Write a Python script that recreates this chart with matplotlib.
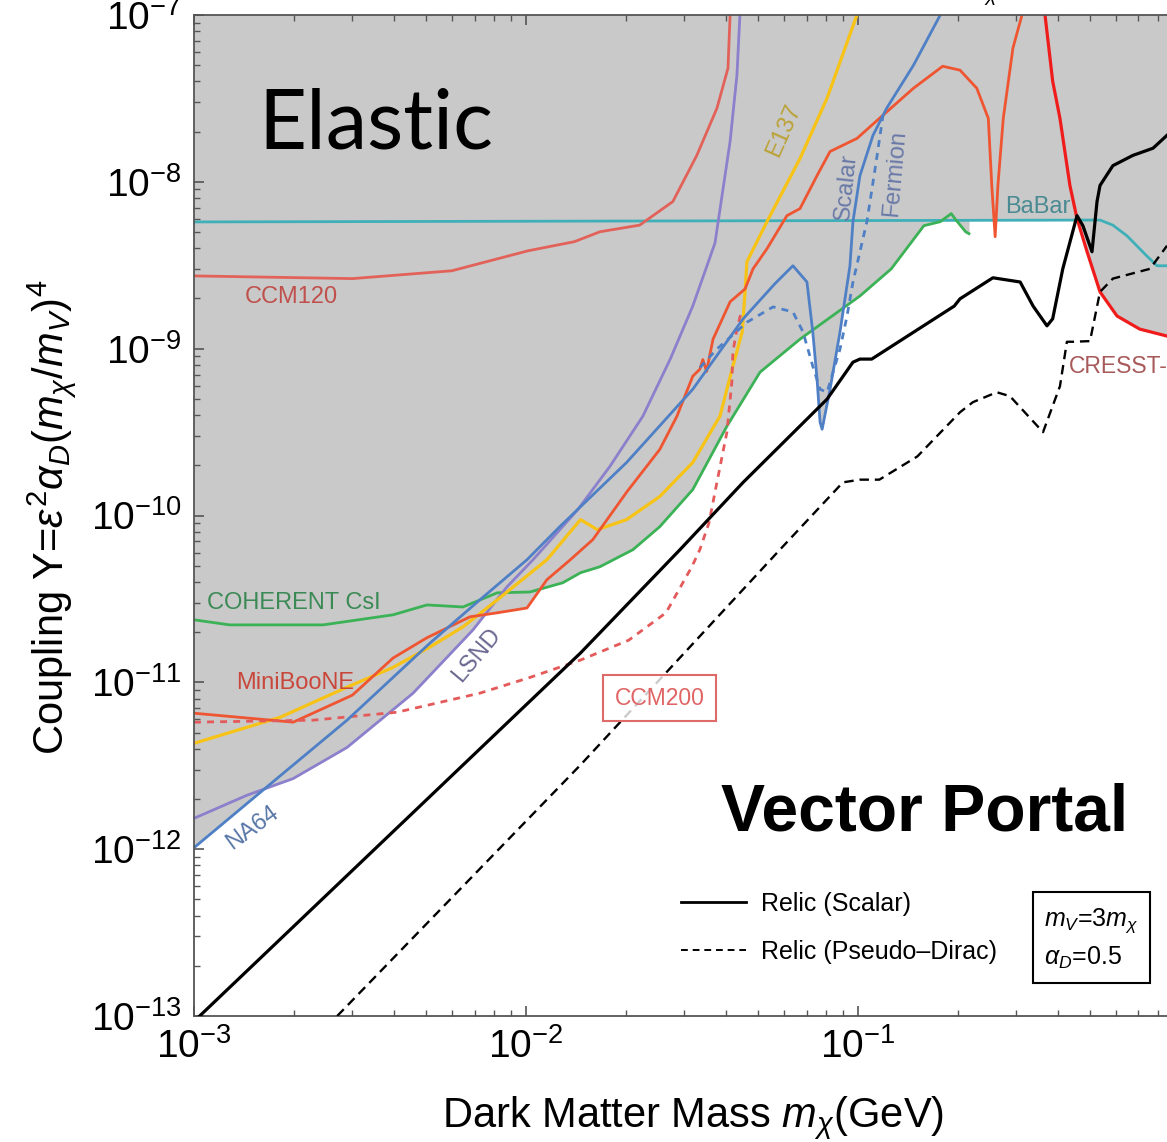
import numpy as np
import matplotlib.pyplot as plt
from matplotlib.lines import Line2D

plt.rcParams['font.family'] = ['Liberation Sans', 'DejaVu Sans']
plt.rcParams['mathtext.fontset'] = 'custom'
plt.rcParams['mathtext.rm'] = 'Liberation Sans'
plt.rcParams['mathtext.it'] = 'Liberation Sans:italic'
plt.rcParams['mathtext.bf'] = 'Liberation Sans:bold'

# ---- limits (mass in GeV, coupling Y) ----
na64_x = [1.0e-3, 1.61e-3, 2.89e-3, 5.14e-3, 7.26e-3, 1.007e-2, 1.264e-2, 2.01e-2, 3.18e-2,
          4.51e-2, 5.62e-2, 6.37e-2, 7.02e-2, 7.31e-2, 7.53e-2, 7.69e-2, 7.80e-2, 8.24e-2,
          8.83e-2, 9.46e-2, 9.66e-2, 1.014e-1, 1.11e-1, 1.22e-1, 1.47e-1, 1.77e-1]
na64_y = [1.02e-12, 2.25e-12, 5.93e-12, 1.72e-11, 3.12e-11, 5.43e-11, 8.57e-11, 2.08e-10, 5.71e-10,
          1.51e-9, 2.45e-9, 3.14e-9, 2.51e-9, 1.26e-9, 6.56e-10, 3.62e-10, 3.29e-10, 5.71e-10,
          1.26e-9, 3.14e-9, 5.77e-9, 1.09e-8, 1.90e-8, 2.76e-8, 5.00e-8, 1.0e-7]

fermion_x = [3.34e-2, 3.76e-2, 4.63e-2, 5.55e-2, 6.37e-2, 6.83e-2, 7.31e-2, 7.69e-2, 8.07e-2,
             8.83e-2, 9.27e-2, 9.66e-2, 1.064e-1, 1.13e-1, 1.19e-1]
fermion_y = [7.7e-10, 9.95e-10, 1.44e-9, 1.78e-9, 1.66e-9, 1.26e-9, 7.85e-10, 5.71e-10, 5.48e-10,
             9.95e-10, 1.57e-9, 2.51e-9, 5.77e-9, 1.25e-8, 2.51e-8]

lsnd_x = [1.0e-3, 1.44e-3, 1.99e-3, 2.89e-3, 4.57e-3, 6.92e-3, 8.77e-3, 1.05e-2, 1.43e-2,
          1.79e-2, 2.25e-2, 2.72e-2, 3.18e-2, 3.71e-2, 4.12e-2, 4.32e-2, 4.41e-2]
lsnd_y = [1.53e-12, 2.10e-12, 2.65e-12, 4.07e-12, 8.61e-12, 2.06e-11, 3.74e-11, 5.43e-11, 1.08e-10,
          1.97e-10, 3.94e-10, 8.66e-10, 1.8e-9, 4.3e-9, 1.75e-8, 4.36e-8, 1.0e-7]

miniboone_x = [1.0e-3, 1.99e-3, 3.0e-3, 3.98e-3, 5.03e-3, 6.78e-3, 8.19e-3, 1.007e-2, 1.156e-2,
               1.36e-2, 1.59e-2, 2.01e-2, 2.53e-2, 2.85e-2, 3.18e-2, 3.34e-2, 3.41e-2, 3.50e-2,
               3.58e-2, 3.66e-2, 4.12e-2, 4.57e-2, 4.83e-2, 5.32e-2, 6.11e-2, 6.69e-2, 7.53e-2,
               8.24e-2, 9.93e-2, 1.19e-1, 1.47e-1, 1.80e-1, 2.03e-1, 2.28e-1, 2.47e-1, 2.53e-1,
               2.59e-1, 2.64e-1, 2.74e-1, 2.93e-1, 3.12e-1]
miniboone_y = [6.53e-12, 5.77e-12, 8.38e-12, 1.40e-11, 1.85e-11, 2.47e-11, 2.61e-11, 2.79e-11, 4.12e-11,
               5.43e-11, 7.17e-11, 1.38e-10, 2.49e-10, 3.94e-10, 6.84e-10, 7.53e-10, 8.6e-10, 7.3e-10,
               9.2e-10, 1.14e-9, 1.91e-9, 2.28e-9, 3.01e-9, 3.97e-9, 6.27e-9, 6.91e-9, 1.09e-8,
               1.52e-8, 1.82e-8, 2.51e-8, 3.64e-8, 4.93e-8, 4.67e-8, 3.64e-8, 2.40e-8, 9.51e-9,
               4.69e-9, 9.51e-9, 2.40e-8, 6.34e-8, 1.0e-7]

ccm120_x = [1.0e-3, 3.0e-3, 5.98e-3, 1.014e-2, 1.40e-2, 1.67e-2, 2.20e-2, 2.77e-2, 3.27e-2,
            3.76e-2, 4.06e-2, 4.12e-2]
ccm120_y = [2.73e-9, 2.63e-9, 2.93e-9, 3.86e-9, 4.38e-9, 5.02e-9, 5.5e-9, 7.62e-9, 1.44e-8,
            2.76e-8, 4.80e-8, 1.0e-7]

ccm200_x = [1.0e-3, 2.28e-3, 4.09e-3, 7.26e-3, 1.028e-2, 1.46e-2, 2.04e-2, 2.64e-2, 3.16e-2,
            3.34e-2, 3.56e-2, 3.76e-2, 4.03e-2, 4.17e-2, 4.20e-2, 4.32e-2, 4.45e-2]
ccm200_y = [5.77e-12, 5.93e-12, 6.62e-12, 8.61e-12, 1.07e-11, 1.36e-11, 1.79e-11, 2.61e-11, 4.93e-11,
            6.24e-11, 9.06e-11, 1.58e-10, 3.16e-10, 6.30e-10, 9.55e-10, 1.31e-9, 1.66e-9]

e137_x = [1.0e-3, 1.82e-3, 2.89e-3, 3.98e-3, 5.14e-3, 6.46e-3, 8.19e-3, 1.156e-2, 1.46e-2,
          1.64e-2, 2.01e-2, 2.53e-2, 3.18e-2, 3.84e-2, 4.20e-2, 4.48e-2, 4.57e-2, 4.63e-2,
          5.32e-2, 6.69e-2, 8.07e-2, 9.93e-2]
e137_y = [4.31e-12, 6.18e-12, 9.35e-12, 1.23e-11, 1.63e-11, 2.15e-11, 3.12e-11, 5.43e-11, 9.45e-11,
          8.22e-11, 9.45e-11, 1.30e-10, 2.08e-10, 3.94e-10, 7.85e-10, 1.26e-9, 2.19e-9, 3.32e-9,
          5.77e-9, 1.38e-8, 3.17e-8, 1.0e-7]

coherent_x = [1.0e-3, 1.28e-3, 2.45e-3, 3.98e-3, 5.03e-3, 6.46e-3, 8.19e-3, 1.028e-2, 1.29e-2,
              1.46e-2, 1.67e-2, 2.10e-2, 2.53e-2, 3.18e-2, 4.03e-2, 5.07e-2, 6.69e-2, 1.014e-1,
              1.26e-1, 1.58e-1, 1.77e-1, 1.91e-1, 1.96e-1, 2.11e-1, 2.16e-1]
coherent_y = [2.37e-11, 2.21e-11, 2.21e-11, 2.54e-11, 2.91e-11, 2.83e-11, 3.44e-11, 3.48e-11, 3.95e-11,
              4.54e-11, 4.93e-11, 6.24e-11, 8.57e-11, 1.43e-10, 3.43e-10, 7.23e-10, 1.14e-9, 2.07e-9,
              3.01e-9, 5.46e-9, 5.77e-9, 6.45e-9, 6.01e-9, 5.02e-9, 4.89e-9]

babar_x = [1.0e-3, 5.36e-1, 5.86e-1, 6.46e-1, 7.41e-1, 7.96e-1, 8.53e-1]
babar_y = [5.75e-9, 5.9e-9, 5.5e-9, 4.75e-9, 3.60e-9, 3.14e-9, 3.14e-9]

cresst_x = [3.66e-1, 3.86e-1, 4.06e-1, 4.35e-1, 4.57e-1, 4.90e-1, 5.36e-1, 6.03e-1, 7.06e-1, 8.53e-1]
cresst_y = [1.0e-7, 4.01e-8, 2.40e-8, 9.51e-9, 6.01e-9, 3.81e-9, 2.19e-9, 1.57e-9, 1.31e-9, 1.19e-9]

# relic targets
relic_s_x = [1.04e-3, 1.46e-2, 2.91e-2, 4.51e-2, 8.07e-2, 9.66e-2, 1.014e-1, 1.10e-1, 1.95e-1,
             2.03e-1, 2.55e-1, 3.08e-1, 3.37e-1, 3.71e-1, 3.86e-1, 4.14e-1, 4.57e-1, 4.76e-1,
             5.07e-1, 5.25e-1, 5.36e-1, 5.86e-1, 6.73e-1, 7.74e-1, 8.53e-1]
relic_s_y = [1.0e-13, 1.50e-11, 6.24e-11, 1.58e-10, 4.98e-10, 8.30e-10, 8.66e-10, 8.66e-10, 1.80e-9,
             1.99e-9, 2.66e-9, 2.51e-9, 1.80e-9, 1.37e-9, 1.51e-9, 3.01e-9, 6.27e-9, 5.46e-9,
             3.81e-9, 7.62e-9, 9.51e-9, 1.25e-8, 1.44e-8, 1.59e-8, 1.90e-8]

relic_pd_x = [2.70e-3, 1.46e-2, 2.64e-2, 5.82e-2, 9.01e-2, 1.014e-1, 1.16e-1, 1.51e-1, 2.03e-1,
              2.22e-1, 2.62e-1, 2.87e-1, 3.61e-1, 4.06e-1, 4.26e-1, 4.45e-1, 5.00e-1, 5.36e-1,
              5.86e-1, 7.58e-1, 8.53e-1]
relic_pd_y = [1.0e-13, 3.2e-12, 1.14e-11, 6.24e-11, 1.58e-10, 1.64e-10, 1.64e-10, 2.26e-10, 4.16e-10,
              4.78e-10, 5.48e-10, 5.19e-10, 3.16e-10, 5.96e-10, 1.10e-9, 1.10e-9, 1.11e-9, 2.19e-9,
              2.63e-9, 3.01e-9, 4.14e-9]

xmin, xmax = 1e-3, 0.853
ymin, ymax = 1e-13, 1e-7

fig = plt.figure(figsize=(11.67, 11.42), dpi=100)
ax = fig.add_axes([194/1167, 1 - 1016/1142, 973/1167, 1001/1142])
ax.set_xscale('log')
ax.set_yscale('log')
ax.set_xlim(xmin, xmax)
ax.set_ylim(ymin, ymax)

# excluded region = everything above the lowest bound
grid = np.logspace(np.log10(xmin), np.log10(xmax), 8000)
lg = np.log10(grid)
env = np.full(grid.shape, np.inf)
for xs, ys in [(na64_x, na64_y), (lsnd_x, lsnd_y), (miniboone_x, miniboone_y),
               (ccm120_x, ccm120_y), (e137_x, e137_y), (coherent_x, coherent_y),
               (babar_x, babar_y), (cresst_x, cresst_y)]:
    ly = np.interp(lg, np.log10(xs), np.log10(ys), left=np.inf, right=np.inf)
    env = np.minimum(env, ly)
ax.fill_between(grid, 10**env, 1e-6, color='#c9c9c9', lw=0, zorder=0)

lw = 2.0
ax.plot(babar_x, babar_y, color='#3fb0b8', lw=lw, zorder=2)
ax.plot(ccm120_x, ccm120_y, color='#e2625a', lw=lw, zorder=2)
ax.plot(coherent_x, coherent_y, color='#3cb257', lw=lw, zorder=2)
ax.plot(lsnd_x, lsnd_y, color='#8b80cc', lw=lw, zorder=2)
ax.plot(e137_x, e137_y, color='#f7c316', lw=lw + 0.3, zorder=2)
ax.plot(miniboone_x, miniboone_y, color='#ef5531', lw=lw, zorder=2)
ax.plot(ccm200_x, ccm200_y, color='#e45a5a', lw=lw, ls=(0, (2.5, 2.2)), zorder=2)
ax.plot(na64_x, na64_y, color='#4f80c6', lw=lw, zorder=2)
ax.plot(fermion_x, fermion_y, color='#4f80c6', lw=lw, ls=(0, (2.5, 2.2)), zorder=2)
ax.plot(cresst_x, cresst_y, color='#f01c1c', lw=lw + 0.3, zorder=2)

ax.plot(relic_s_x, relic_s_y, color='black', lw=2.3, zorder=3)
ax.plot(relic_pd_x, relic_pd_y, color='black', lw=1.7, ls=(0, (4, 2.5)), zorder=3)

# curve labels
lab = dict(fontsize=17, zorder=4)
ax.text(1.42e-3, 2.04e-9, 'CCM120', color='#c0504c', ha='left', va='center', **lab)
ax.text(1.094e-3, 2.99e-11, 'COHERENT CsI', color='#3b8a55', ha='left', va='center', **lab)
ax.text(1.338e-3, 9.89e-12, 'MiniBooNE', color='#c9473a', ha='left', va='center', **lab)
ax.text(7.11e-3, 1.46e-11, 'LSND', color='#6a6890', ha='center', va='center', rotation=50, **lab)
ax.text(1.496e-3, 1.35e-12, 'NA64', color='#5a78a8', ha='center', va='center', rotation=36, **lab)
ax.text(6.0e-2, 2.03e-8, 'E137', color='#bba236', ha='center', va='center', rotation=66, **lab)
ax.text(9.21e-2, 9.37e-9, 'Scalar', color='#6a7aa8', ha='center', va='center', rotation=84, **lab)
ax.text(1.29e-1, 1.12e-8, 'Fermion', color='#6a7aa8', ha='center', va='center', rotation=85, **lab)
ax.text(2.77e-1, 7.10e-9, 'BaBar', color='#4a8a92', ha='left', va='center', **lab)
ax.text(4.33e-1, 7.85e-10, 'CRESST-III', color='#a85a5a', ha='left', va='center',
        fontsize=16.5, zorder=4)
ax.text(2.53e-2, 8.03e-12, 'CCM200', color='#e06464', ha='center', va='center',
        bbox=dict(boxstyle='square,pad=0.5', fc=(1, 1, 1, 0.8), ec='#e06a6a', lw=1.5),
        fontsize=16.5, zorder=4)

ax.text(1.56e-3, 1.58e-8, 'Elastic', fontsize=60, family='Lato', color='black',
        ha='left', va='baseline', zorder=4)
ax.text(3.88e-2, 1.29e-12, 'Vector Portal', fontsize=47.5, fontweight='bold', color='black',
        ha='left', va='baseline', zorder=4)

# legend for relic lines
handles = [Line2D([], [], color='black', lw=2.0),
           Line2D([], [], color='black', lw=1.4, ls=(0, (3.5, 2.5)))]
ax.legend(handles, ['Relic (Scalar)', 'Relic (Pseudo–Dirac)'], loc='upper left',
          bbox_to_anchor=(681/1167, 1 - 892/1142), bbox_transform=fig.transFigure,
          frameon=False, fontsize=18, handlelength=2.6, handletextpad=0.6,
          labelspacing=0.95, borderpad=0, borderaxespad=0)

fig.text(1044/1167, 1 - 939/1142, '$m_V$=3$m_\\chi$\n$\\alpha_D$=0.5', fontsize=18,
         ha='left', va='center', linespacing=1.5,
         bbox=dict(boxstyle='square,pad=0.45', fc='white', ec='black', lw=1.5))

fig.text(962/1167, 1 + 3/1142, '$m_\\chi$', fontsize=20, ha='left', va='baseline')

# axes styling
for s in ['left', 'bottom', 'top']:
    ax.spines[s].set_color('#555555')
    ax.spines[s].set_linewidth(1.3)
ax.spines['right'].set_visible(False)

ax.set_xticks([1e-3, 1e-2, 1e-1])
ax.set_xticklabels(['$10^{-3}$', '$10^{-2}$', '$10^{-1}$'])
ax.set_yticks([10.0**k for k in range(-13, -6)])
ax.set_yticklabels(['$10^{%d}$' % k for k in range(-13, -6)])
ax.tick_params(which='both', direction='in', top=True, right=False, color='#555555',
               labelsize=28)
ax.tick_params(which='major', length=7, width=1.2)
ax.tick_params(which='minor', length=4, width=1.0)
ax.tick_params(axis='y', pad=9)
ax.tick_params(axis='x', pad=9)

fig.text(693/1167, 1 - 1127/1142, 'Dark Matter Mass $m_\\chi$(GeV)', fontsize=30,
         ha='center', va='baseline')
fig.text(52/1167, 1 - 517/1142, 'Coupling Y=$\\varepsilon^2\\alpha_D(m_\\chi/m_V)^4$',
         fontsize=30, ha='center', va='center', rotation=90)

fig.savefig('out.png', dpi=100)
